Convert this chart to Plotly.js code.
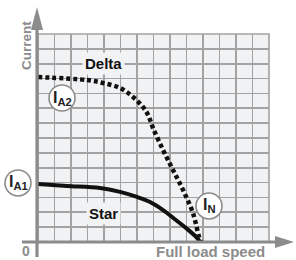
<!DOCTYPE html>
<html><head><meta charset="utf-8">
<script src="https://cdn.plot.ly/plotly-3.0.1.min.js"></script>
<style>html,body{margin:0;padding:0;background:#fff}#chart{width:296px;height:260px}</style>
</head><body><div id="chart"></div>
<script>
const deltaSpeed   = [0, 2.97, 3.94, 4.97, 5.76, 6.36, 6.67, 6.97, 7.58, 8.18, 8.79, 9.39, 9.76, 9.88];
const deltaCurrent = [11.1, 10.9, 10.7, 10.37, 9.76, 9.09, 8.55, 7.67, 6.19, 4.85, 3.5, 1.95, 0.34, 0];
const starSpeed    = [0, 1.76, 3.76, 4.97, 6.0, 6.79, 7.58, 8.36, 8.97, 9.58, 9.82];
const starCurrent  = [3.9, 3.77, 3.63, 3.37, 3.03, 2.69, 2.15, 1.48, 0.94, 0.34, 0];
const seriesLabels = ['Delta', 'Star'];
const axisLabels = ['Current', 'Full load speed', '0'];
const circleLabels = ['I<sub>A1</sub>', 'I<sub>A2</sub>', 'I<sub>N</sub>'];

const gray = '#8c8c8c';
const bg = '#f1f2f4';
const font = {family: 'Liberation Sans, Arial, sans-serif', weight: 'bold'};

const traces = [
  {x: deltaSpeed, y: deltaCurrent, mode: 'lines', line: {shape: 'spline', color: '#111', width: 4.5, dash: '4px,3px'}, cliponaxis: false, hoverinfo: 'skip'},
  {x: starSpeed, y: starCurrent, mode: 'lines', line: {shape: 'spline', color: '#111', width: 4}, cliponaxis: false, hoverinfo: 'skip'}
];

const circlePos = [[-0.0866, 0.2837], [0.1039, 0.6923], [0.7403, 0.1731]];
const shapes = [
  {type: 'rect', xref: 'paper', yref: 'paper', x0: 0, x1: 1, y0: 0, y1: 1, line: {color: '#a2a2a2', width: 1.6}, layer: 'below'},
  {type: 'line', xref: 'paper', yref: 'paper', x0: -0.0043, x1: -0.0043, y0: -0.072, y1: 1.02, line: {color: gray, width: 3.2}, layer: 'above'},
  {type: 'path', xref: 'paper', yref: 'paper', path: 'M -0.0043 1.13 L -0.0303 1.0192 L 0.0217 1.0192 Z', fillcolor: gray, line: {width: 0}, layer: 'above'},
  {type: 'line', xref: 'paper', yref: 'paper', x0: -0.0693, x1: 1.03, y0: 0, y1: 0, line: {color: gray, width: 3.2}, layer: 'above'},
  {type: 'path', xref: 'paper', yref: 'paper', path: 'M 1.1082 0 L 1.026 0.0288 L 1.026 -0.0288 Z', fillcolor: gray, line: {width: 0}, layer: 'above'}
];
circlePos.forEach(p => shapes.push({type: 'circle', xref: 'paper', yref: 'paper', xsizemode: 'pixel', ysizemode: 'pixel', xanchor: p[0], yanchor: p[1], x0: -13, x1: 13, y0: -13, y1: 13, fillcolor: '#fff', line: {color: gray, width: 1.6}, layer: 'above'}));

const annotations = [
  {text: axisLabels[0], xref: 'paper', yref: 'paper', x: -0.052, y: 0.947, textangle: -90, showarrow: false, xanchor: 'center', yanchor: 'middle', font: Object.assign({size: 13.5, color: gray}, font)},
  {text: axisLabels[1], xref: 'paper', yref: 'paper', x: 0.7446, y: -0.048, showarrow: false, xanchor: 'center', yanchor: 'middle', font: Object.assign({size: 15, color: gray}, font)},
  {text: axisLabels[2], xref: 'paper', yref: 'paper', x: -0.05, y: -0.0433, showarrow: false, xanchor: 'center', yanchor: 'middle', font: Object.assign({size: 14, color: gray}, font)},
  {text: seriesLabels[0], xref: 'paper', yref: 'paper', x: 0.2835, y: 0.8558, showarrow: false, xanchor: 'center', yanchor: 'middle', bgcolor: bg, borderpad: 2, font: Object.assign({size: 15, color: '#111'}, font)},
  {text: seriesLabels[1], xref: 'paper', yref: 'paper', x: 0.2857, y: 0.1394, showarrow: false, xanchor: 'center', yanchor: 'middle', bgcolor: bg, borderpad: 2, font: Object.assign({size: 15, color: '#111'}, font)}
];
circlePos.forEach((p, i) => annotations.push({text: circleLabels[i], xref: 'paper', yref: 'paper', x: p[0] + 0.004, y: p[1], showarrow: false, xanchor: 'center', yanchor: 'middle', font: Object.assign({size: 16, color: '#222'}, font)}));

const layout = {
  width: 296, height: 260,
  margin: {l: 38, r: 27, t: 34, b: 18},
  paper_bgcolor: '#fff', plot_bgcolor: bg,
  showlegend: false,
  xaxis: {range: [0, 14], dtick: 1, tick0: 0, showgrid: true, gridcolor: '#a2a2a2', gridwidth: 1.6, zeroline: false, showline: false, showticklabels: false, ticks: '', fixedrange: true},
  yaxis: {range: [0, 14], dtick: 1, tick0: 0, showgrid: true, gridcolor: '#a2a2a2', gridwidth: 1.6, zeroline: false, showline: false, showticklabels: false, ticks: '', fixedrange: true},
  shapes: shapes,
  annotations: annotations
};
Plotly.newPlot('chart', traces, layout, {staticPlot: true, displayModeBar: false});
</script></body></html>
